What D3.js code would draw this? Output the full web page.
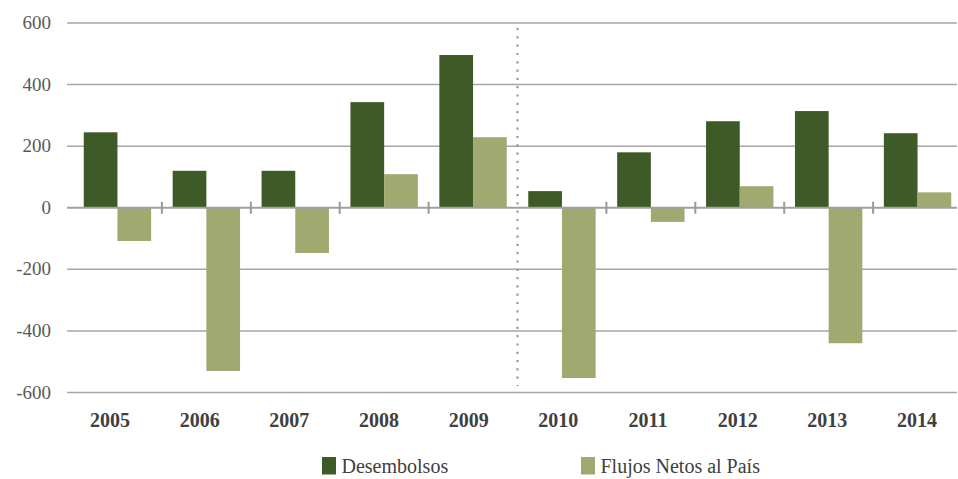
<!DOCTYPE html>
<html>
<head>
<meta charset="utf-8">
<script src="https://cdn.jsdelivr.net/npm/d3@7"></script>
<style>
  html, body { margin: 0; padding: 0; background: #fff; }
  svg { display: block; }
  svg text { font-family: "Liberation Serif", "DejaVu Serif", serif; }
</style>
</head>
<body>
<svg id="chart" width="958" height="479"></svg>
<script>
// Annual disbursements vs. net flows to the country
const years = ["2005","2006","2007","2008","2009","2010","2011","2012","2013","2014"];
const desembolsos = [245, 120, 120, 343, 496, 54, 180, 281, 314, 242];
const flujosNetos = [-108, -530, -147, 109, 229, -553, -46, 70, -440, 50];
const yTicks = [-600, -400, -200, 0, 200, 400, 600];
const seriesNames = ["Desembolsos", "Flujos Netos al País"];
const seriesColors = ["#3e5a26", "#a0a96f"];

const svg = d3.select("#chart");
const gridLeft = 67, gridRight = 957;

const y = d3.scaleLinear().domain([-600, 600]).range([392.5, 23]);
const x = d3.scaleBand().domain(years).range([73, 962]).paddingInner(0.242).paddingOuter(0.121);
const xs = d3.scaleBand().domain([0, 1]).range([0, x.bandwidth()]);
const labelX = d3.scalePoint().domain(years).range([110, 917]);

// horizontal gridlines
svg.append("g").selectAll("line").data(yTicks.filter(d => d !== 0)).join("line")
  .attr("x1", gridLeft).attr("x2", gridRight)
  .attr("y1", d => y(d)).attr("y2", d => y(d))
  .attr("stroke", "#a6a6a6").attr("stroke-width", 1.5);

// y tick labels
svg.append("g").selectAll("text").data(yTicks).join("text")
  .attr("x", 51).attr("y", d => y(d) + 6)
  .attr("text-anchor", "end")
  .attr("font-size", 19).attr("fill", "#595959")
  .text(d => d);

// bars
const groups = svg.append("g").selectAll("g").data(years).join("g")
  .attr("transform", d => `translate(${x(d)},0)`);
groups.each(function(yr, i) {
  const vals = [desembolsos[i], flujosNetos[i]];
  d3.select(this).selectAll("rect").data(vals).join("rect")
    .attr("x", (v, j) => xs(j))
    .attr("width", xs.bandwidth())
    .attr("y", v => y(Math.max(0, v)))
    .attr("height", v => Math.abs(y(v) - y(0)))
    .attr("fill", (v, j) => seriesColors[j]);
});

// zero axis line
svg.append("line")
  .attr("x1", gridLeft).attr("x2", gridRight)
  .attr("y1", y(0)).attr("y2", y(0))
  .attr("stroke", "#a0a0a0").attr("stroke-width", 2.2);

// category separators on the axis
const step = x.step();
const boundaries = years.slice(1).map(d => x(d) - (step - x.bandwidth()) / 2);
svg.append("g").selectAll("line").data(boundaries.filter((b, i) => years[i + 1] !== "2010")).join("line")
  .attr("x1", d => d).attr("x2", d => d)
  .attr("y1", y(0) - 6).attr("y2", y(0) + 6)
  .attr("stroke", "#9a9a9a").attr("stroke-width", 2);

// dotted divider between 2009 and 2010
const divX = x("2010") - (step - x.bandwidth()) / 2;
svg.append("line")
  .attr("x1", divX).attr("x2", divX)
  .attr("y1", 28).attr("y2", 386)
  .attr("stroke", "#9a9a9a").attr("stroke-width", 2.2)
  .attr("stroke-dasharray", "2.2 6.1");

// x labels
svg.append("g").selectAll("text").data(years).join("text")
  .attr("x", d => labelX(d)).attr("y", 427)
  .attr("text-anchor", "middle")
  .attr("font-weight", "bold")
  .attr("font-size", 20).attr("fill", "#404040")
  .text(d => d);

// legend
const legendX = [322, 581];
const legend = svg.append("g").selectAll("g").data(seriesNames).join("g")
  .attr("transform", (d, i) => `translate(${legendX[i]},457)`);
legend.append("rect").attr("width", 14).attr("height", 17.5)
  .attr("fill", (d, i) => seriesColors[i]);
legend.append("text").attr("x", 19.5).attr("y", 16)
  .attr("font-size", 20).attr("fill", "#404040")
  .text(d => d);
</script>
</body>
</html>
